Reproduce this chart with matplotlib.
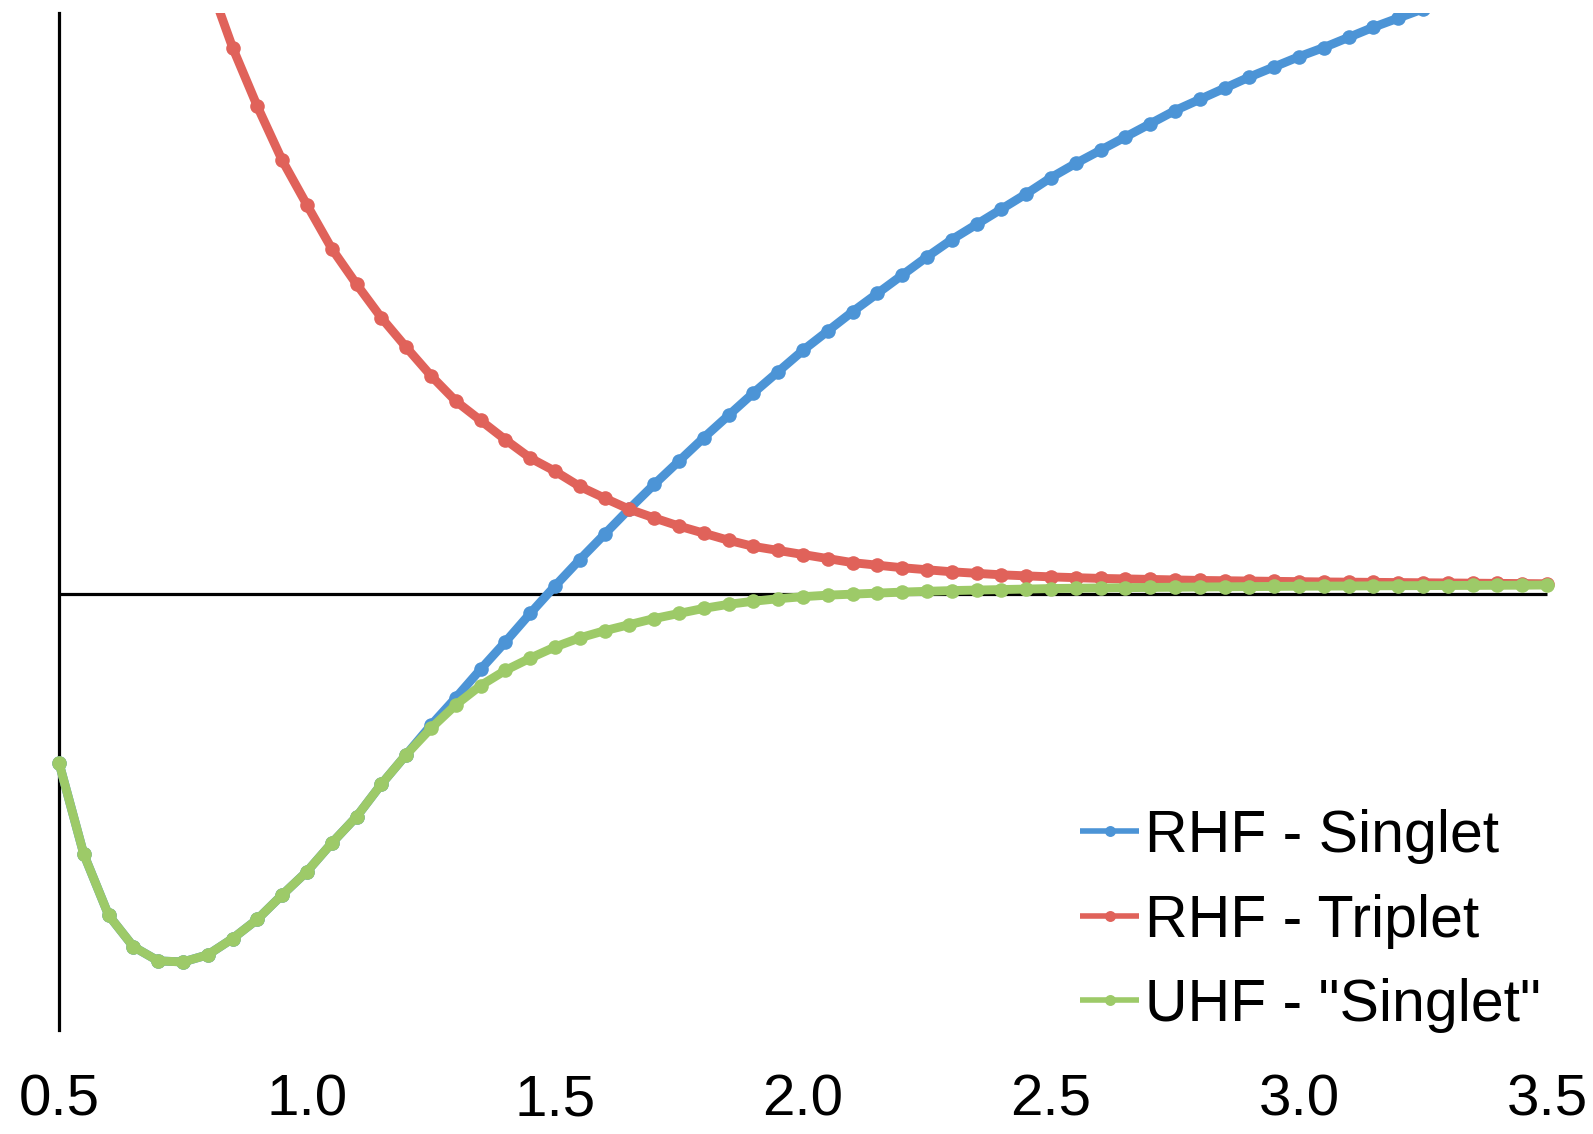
import matplotlib
matplotlib.use("Agg")
import matplotlib.pyplot as plt

plt.rcParams['font.family'] = ['Liberation Sans', 'DejaVu Sans']

# bond length (x) and relative energies (arbitrary units)
bond_length = [0.50, 0.55, 0.60, 0.65, 0.70, 0.75, 0.80, 0.85, 0.90, 0.95,
               1.00, 1.05, 1.10, 1.15, 1.20, 1.25, 1.30, 1.35, 1.40, 1.45,
               1.50, 1.55, 1.60, 1.65, 1.70, 1.75, 1.80, 1.85, 1.90, 1.95,
               2.00, 2.05, 2.10, 2.15, 2.20, 2.25, 2.30, 2.35, 2.40, 2.45,
               2.50, 2.55, 2.60, 2.65, 2.70, 2.75, 2.80, 2.85, 2.90, 2.95,
               3.00, 3.05, 3.10, 3.15, 3.20, 3.25, 3.30, 3.35, 3.40, 3.45,
               3.50]

rhf_singlet = [-1.66, -2.56, -3.16, -3.47, -3.61, -3.62, -3.55, -3.39, -3.20, -2.96,
               -2.73, -2.45, -2.19, -1.87, -1.58, -1.29, -1.02, -0.74, -0.47, -0.19,
               0.08, 0.34, 0.59, 0.84, 1.08, 1.31, 1.54, 1.76, 1.98, 2.19,
               2.40, 2.59, 2.78, 2.96, 3.14, 3.32, 3.49, 3.64, 3.79, 3.94,
               4.10, 4.24, 4.37, 4.50, 4.63, 4.76, 4.87, 4.98, 5.09, 5.19,
               5.29, 5.38, 5.48, 5.58, 5.67, 5.76, 5.84, 5.91, 5.98, 6.05,
               6.11]

rhf_triplet = [13.7, 11.8, 10.2, 8.9, 7.8, 6.85, 6.06, 5.38, 4.80, 4.27,
               3.83, 3.40, 3.05, 2.72, 2.43, 2.15, 1.90, 1.71, 1.52, 1.34,
               1.21, 1.06, 0.945, 0.835, 0.75, 0.67, 0.60, 0.53, 0.47, 0.43,
               0.39, 0.35, 0.31, 0.285, 0.26, 0.24, 0.22, 0.205, 0.19, 0.18,
               0.17, 0.162, 0.155, 0.15, 0.145, 0.14, 0.135, 0.132, 0.129, 0.126,
               0.123, 0.12, 0.118, 0.116, 0.114, 0.112, 0.11, 0.108, 0.106, 0.104,
               0.102]

uhf_singlet = [-1.66, -2.56, -3.16, -3.47, -3.61, -3.62, -3.55, -3.39, -3.20, -2.96,
               -2.73, -2.45, -2.19, -1.87, -1.58, -1.32, -1.09, -0.90, -0.75, -0.63,
               -0.52, -0.43, -0.36, -0.30, -0.24, -0.19, -0.14, -0.10, -0.07, -0.045,
               -0.025, -0.01, 0.0, 0.01, 0.02, 0.028, 0.035, 0.04, 0.045, 0.05,
               0.055, 0.058, 0.061, 0.064, 0.066, 0.068, 0.07, 0.072, 0.074, 0.076,
               0.078, 0.079, 0.08, 0.082, 0.083, 0.084, 0.085, 0.086, 0.087, 0.088,
               0.09]

series_labels = ['RHF - Singlet', 'RHF - Triplet', 'UHF - "Singlet"']
series_colors = ['#4C94D6', '#E0625A', '#9DCA68']
tick_values = [0.5, 1.0, 1.5, 2.0, 2.5, 3.0, 3.5]
tick_labels = ['0.5', '1.0', '1.5', '2.0', '2.5', '3.0', '3.5']

W, H = 1593, 1134
fig = plt.figure(figsize=(W / 100, H / 100), dpi=100)
# axes: x 0.48..3.52 so that end markers are not clipped
x_lo, x_hi = 0.48, 3.52
px_per_unit = (1547 - 59) / 3.0
left_px = 59 - (0.5 - x_lo) * px_per_unit
right_px = 1547 + (x_hi - 3.5) * px_per_unit
top_px, bottom_px = 13, 1030
ax = fig.add_axes([left_px / W, 1 - bottom_px / H,
                   (right_px - left_px) / W, (bottom_px - top_px) / H])

lw = 6.4
ms = 10.5
for ys, lab, col, z in zip([rhf_singlet, rhf_triplet, uhf_singlet],
                           series_labels, series_colors, [3, 4, 5]):
    ax.plot(bond_length, ys, color=col, lw=lw, marker='o', ms=ms,
            markeredgewidth=0, label=lab, zorder=z, solid_capstyle='butt')

ax.hlines(0, 0.5, 3.5, color='black', lw=2.3, zorder=2)

ax.set_xlim(x_lo, x_hi)
ax.set_ylim(-4.29, 5.72)

for s in ['top', 'right', 'bottom']:
    ax.spines[s].set_visible(False)
ax.spines['left'].set_position(('data', 0.5))
ax.spines['left'].set_color('black')
ax.spines['left'].set_linewidth(2.3)
ax.set_yticks([])
ax.set_xticks(tick_values)
ax.set_xticklabels(tick_labels)
ax.tick_params(axis='x', length=0, pad=31, labelsize=42)

leg = ax.legend(loc='upper left', bbox_to_anchor=(1080 / W, 1 - 809 / H),
                bbox_transform=fig.transFigure, frameon=False, fontsize=42.5,
                handlelength=1.0, handletextpad=0.1, labelspacing=0.5,
                borderpad=0, borderaxespad=0, numpoints=1, markerscale=0.75)
for h in leg.get_lines():
    h.set_linewidth(4.0)

fig.savefig('out.png', dpi=100)
